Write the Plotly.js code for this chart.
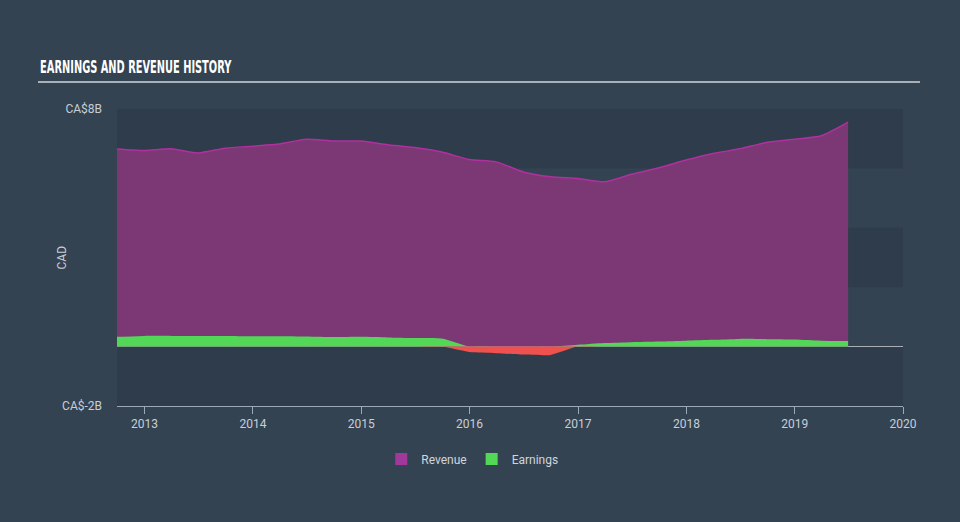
<!DOCTYPE html>
<html>
<head>
<meta charset="utf-8">
<script src="https://cdn.plot.ly/plotly-3.0.1.min.js"></script>
<style>
html,body{margin:0;padding:0;background:#344352;}
#chart{width:960px;height:522px;}
</style>
</head>
<body>
<div id="chart"></div>
<script>
// Quarterly dates
var dates = ['2012-09-30','2012-12-31','2013-03-31','2013-06-30','2013-09-30','2013-12-31',
  '2014-03-31','2014-06-30','2014-09-30','2014-12-31','2015-03-31','2015-06-30','2015-09-30',
  '2015-12-31','2016-03-31','2016-06-30','2016-09-30','2016-12-31','2017-03-31','2017-06-30',
  '2017-09-30','2017-12-31','2018-03-31','2018-06-30','2018-09-30','2018-12-31','2019-03-31','2019-06-30'];
// Revenue, CA$ billions
var revenue = [6.65, 6.60, 6.66, 6.52, 6.68, 6.75, 6.82, 6.98, 6.92, 6.92, 6.80, 6.70, 6.55,
  6.30, 6.22, 5.88, 5.72, 5.66, 5.55, 5.80, 6.02, 6.28, 6.50, 6.66, 6.88, 6.98, 7.10, 7.56];
// Earnings, CA$ billions
var earnings = [0.33, 0.36, 0.36, 0.36, 0.36, 0.35, 0.35, 0.34, 0.32, 0.33, 0.31, 0.29, 0.27,
  -0.18, -0.22, -0.27, -0.28, 0.06, 0.12, 0.15, 0.17, 0.20, 0.23, 0.26, 0.25, 0.24, 0.20, 0.19];
var yTickVals = [8, -2];
var yTickText = ['CA$8B', 'CA$-2B'];
var xTickVals = ['2013-01-01','2014-01-01','2015-01-01','2016-01-01','2017-01-01','2018-01-01','2019-01-01','2020-01-01'];
var xTickText = ['2013','2014','2015','2016','2017','2018','2019','2020'];

var earnPos = earnings.map(function(v){return Math.max(0, v);});
var earnNeg = earnings.map(function(v){return Math.min(0, v);});

var traces = [
  {x: dates, y: revenue, type: 'scatter', mode: 'lines', name: 'Revenue', showlegend: false,
   line: {color: '#b0309f', width: 1.5, shape: 'spline', smoothing: 0.6},
   fill: 'tozeroy', fillcolor: '#7b3874'},
  {x: dates, y: earnPos, type: 'scatter', mode: 'lines', name: 'Earnings', showlegend: false,
   line: {color: '#52d856', width: 0, shape: 'spline', smoothing: 0.6},
   fill: 'tozeroy', fillcolor: '#52d856'},
  {x: dates, y: earnNeg, type: 'scatter', mode: 'lines', name: 'Loss', showlegend: false,
   line: {color: '#f0514e', width: 0, shape: 'spline', smoothing: 0.6},
   fill: 'tozeroy', fillcolor: '#f0514e'},
  // legend entries (square swatches)
  {x: [null], y: [null], type: 'bar', name: 'Revenue', marker: {color: '#a1389b'}},
  {x: [null], y: [null], type: 'bar', name: 'Earnings', marker: {color: '#52d856'}}
];

var bandColor = '#2e3c4b';
var layout = {
  width: 960, height: 522,
  paper_bgcolor: '#344352', plot_bgcolor: 'rgba(0,0,0,0)',
  margin: {l: 117, r: 57, t: 109, b: 116},
  font: {family: 'Roboto, "Open Sans", sans-serif', color: '#c8ced6', size: 12},
  showlegend: true,
  legend: {orientation: 'h', x: 0.452, xanchor: 'center', y: -0.13, yanchor: 'top',
    font: {size: 12, color: '#d0d5db'}, traceorder: 'normal', itemwidth: 30},
  xaxis: {type: 'date', range: ['2012-09-30', '2020-01-01'],
    tickvals: xTickVals, ticktext: xTickText, showgrid: false, zeroline: false,
    showline: true, linecolor: '#9aa8b8', linewidth: 1,
    ticks: 'outside', ticklen: 7, tickcolor: '#9aa8b8', tickwidth: 1,
    tickfont: {size: 12, color: '#c8ced6'}},
  yaxis: {range: [-2, 8], tickvals: yTickVals, ticktext: yTickText,
    showgrid: false, zeroline: true, zerolinecolor: '#a7aeb6', zerolinewidth: 1.5,
    showline: false, ticks: '', ticklabelstandoff: 14,
    tickfont: {size: 12, color: '#c8ced6'}},
  shapes: [
    {type: 'rect', xref: 'paper', yref: 'y', x0: 0, x1: 1, y0: 6, y1: 8, fillcolor: bandColor, line: {width: 0}, layer: 'below'},
    {type: 'rect', xref: 'paper', yref: 'y', x0: 0, x1: 1, y0: 2, y1: 4, fillcolor: bandColor, line: {width: 0}, layer: 'below'},
    {type: 'rect', xref: 'paper', yref: 'y', x0: 0, x1: 1, y0: -2, y1: 0, fillcolor: bandColor, line: {width: 0}, layer: 'below'},
    {type: 'line', xref: 'paper', yref: 'paper', x0: -0.1005, x1: 1.0216, y0: 1.0909, y1: 1.0909,
     line: {color: '#aab0b8', width: 2}}
  ],
  annotations: [
    {text: '<b>EARNINGS AND REVENUE HISTORY</b>', xref: 'paper', yref: 'paper',
     x: -0.1005, y: 1.1, xanchor: 'left', yanchor: 'bottom', showarrow: false,
     font: {family: '"DejaVu Sans Condensed", "DejaVu Sans", sans-serif', size: 17, color: '#ffffff'}},
    {text: 'CAD', xref: 'paper', yref: 'paper', x: -0.07, y: 0.5, xanchor: 'center', yanchor: 'middle',
     textangle: -90, showarrow: false, font: {size: 12, color: '#c8ced6'}}
  ]
};

function squeezeTitle() {
  var el = document.querySelector('#chart .annotation text.annotation-text');
  if (!el) return;
  el.removeAttribute('transform');
  var bb = el.getBBox();
  var target = 192;
  var s = target / bb.width;
  if (s > 1) return;
  var x0 = bb.x;
  el.setAttribute('transform', 'translate(' + x0 + ',0) scale(' + s + ',1) translate(' + (-x0) + ',0)');
}

Plotly.newPlot('chart', traces, layout, {displayModeBar: false, staticPlot: true}).then(squeezeTitle);
</script>
</body>
</html>
